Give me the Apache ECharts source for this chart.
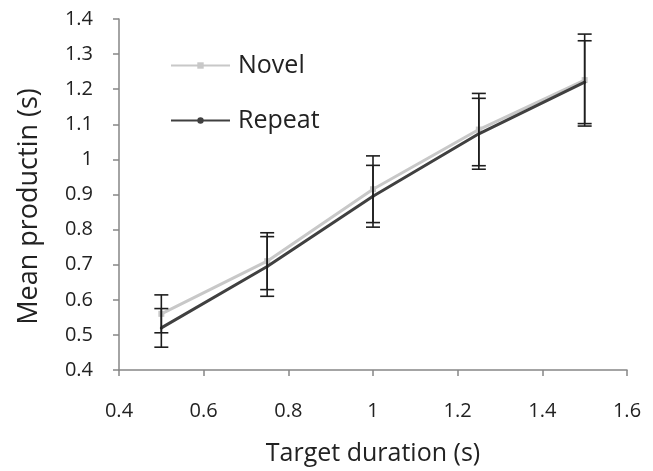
<!DOCTYPE html>
<html>
<head>
<meta charset="utf-8">
<script src="https://cdn.jsdelivr.net/npm/echarts@6/dist/echarts.min.js"></script>
<style>html,body{margin:0;padding:0;background:#fff}#chart{width:653px;height:471px}</style>
</head>
<body>
<div id="chart"></div>
<script>
const targets = [0.5, 0.75, 1.0, 1.25, 1.5];
const novelMean = [0.56, 0.71, 0.915, 1.085, 1.226];
const novelErr = [0.054, 0.081, 0.095, 0.103, 0.131];
const repeatMean = [0.52, 0.695, 0.895, 1.073, 1.22];
const repeatErr = [0.055, 0.085, 0.088, 0.101, 0.118];
const seriesNames = ['Novel', 'Repeat'];

const FONT = '"Open Sans", sans-serif';
const chart = echarts.init(document.getElementById('chart'));

function pairs(xs, ys) { return xs.map((x, i) => [x, ys[i]]); }
function errData(xs, m, e) { return xs.map((x, i) => [x, m[i] - e[i], m[i] + e[i]]); }

function errRender(params, api) {
  const x = api.value(0);
  const lo = api.coord([x, api.value(1)]);
  const hi = api.coord([x, api.value(2)]);
  const w = 7;
  const style = { stroke: '#1e1e1e', lineWidth: 1.6, fill: null };
  return {
    type: 'group',
    children: [
      { type: 'line', shape: { x1: hi[0], y1: hi[1], x2: lo[0], y2: lo[1] }, style },
      { type: 'line', shape: { x1: hi[0] - w, y1: hi[1], x2: hi[0] + w, y2: hi[1] }, style },
      { type: 'line', shape: { x1: lo[0] - w, y1: lo[1], x2: lo[0] + w, y2: lo[1] }, style }
    ]
  };
}

const axisCommon = {
  axisLine: { show: true, lineStyle: { color: '#868686', width: 1.5 } },
  axisTick: { show: true, inside: false, length: 6, lineStyle: { color: '#868686', width: 1.5 } },
  splitLine: { show: false },
  axisLabel: { fontFamily: FONT, fontSize: 20, color: '#222' },
  nameTextStyle: { fontFamily: FONT, fontSize: 25, color: '#222' }
};

chart.setOption({
  animation: false,
  backgroundColor: '#fff',
  grid: { left: 119, right: 26, top: 19, bottom: 99 },
  legend: {
    data: seriesNames,
    orient: 'vertical',
    left: 170,
    top: 53,
    padding: 0,
    itemWidth: 59,
    itemHeight: 8,
    itemGap: 30,
    textStyle: { fontFamily: FONT, fontSize: 25, color: '#222', padding: [0, 0, 0, 3] }
  },
  xAxis: Object.assign({}, axisCommon, {
    type: 'value', min: 0.4, max: 1.6, interval: 0.2,
    name: 'Target duration (s)', nameLocation: 'middle', nameGap: 71,
    axisLabel: Object.assign({}, axisCommon.axisLabel, { margin: 31 })
  }),
  yAxis: Object.assign({}, axisCommon, {
    type: 'value', min: 0.4, max: 1.4, interval: 0.1,
    name: 'Mean productin (s)', nameLocation: 'middle', nameGap: 76,
    nameTextStyle: Object.assign({}, axisCommon.nameTextStyle, { fontSize: 27, padding: [0, 24, 0, 0] }),
    axisLabel: Object.assign({}, axisCommon.axisLabel, { margin: 26 })
  }),
  series: [
    {
      name: seriesNames[0], type: 'line', data: pairs(targets, novelMean),
      symbol: 'rect', symbolSize: 6, showSymbol: true,
      lineStyle: { color: '#c8c8c8', width: 3 }, itemStyle: { color: '#c8c8c8' }, z: 2
    },
    {
      name: seriesNames[1], type: 'line', data: pairs(targets, repeatMean),
      symbol: 'circle', symbolSize: 3, showSymbol: true,
      lineStyle: { color: '#404040', width: 3 }, itemStyle: { color: '#404040' }, z: 3
    },
    {
      type: 'custom', name: 'novelErr', data: errData(targets, novelMean, novelErr),
      renderItem: errRender, z: 4, encode: { x: 0, y: [1, 2] }
    },
    {
      type: 'custom', name: 'repeatErr', data: errData(targets, repeatMean, repeatErr),
      renderItem: errRender, z: 4, encode: { x: 0, y: [1, 2] }
    }
  ]
});
</script>
</body>
</html>
